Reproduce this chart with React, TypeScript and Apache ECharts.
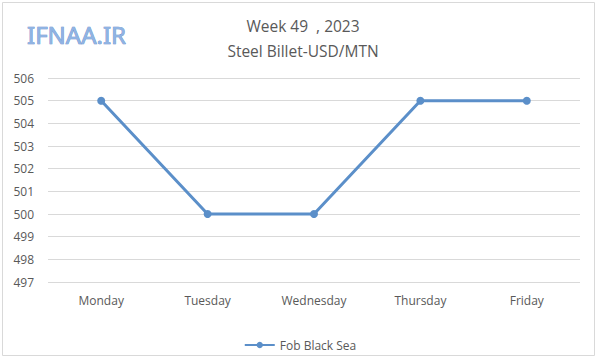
import React, { useEffect, useRef } from "react";
import * as echarts from "echarts";

const categories = ["Monday", "Tuesday", "Wednesday", "Thursday", "Friday"];
const seriesName = "Fob Black Sea";
const values = [505, 500, 500, 505, 505];
const titleLines = ["Week 49  , 2023", "Steel Billet-USD/MTN"];
const logoText = "IFNAA.IR";

export default function App() {
  const ref = useRef<HTMLDivElement>(null);
  useEffect(() => {
    if (!ref.current) return;
    const chart = echarts.init(ref.current, null, { renderer: "svg" });
    chart.setOption({
      animation: false,
      backgroundColor: "#ffffff",
      title: {
        text: titleLines.join("\n"),
        left: 298,
        textAlign: "center",
        top: 8,
        textStyle: {
          fontFamily: "Open Sans, sans-serif",
          fontSize: 15.5,
          fontWeight: "normal",
          color: "#595959",
          lineHeight: 25,
        },
      },
      graphic: [
        {
          type: "rect",
          shape: { x: 2.5, y: 2.5, width: 592, height: 353 },
          style: { fill: "none", stroke: "#d9d9d9", lineWidth: 1 },
        },
        {
          type: "text",
          x: 27,
          y: 34,
          style: {
            text: logoText,
            fontFamily: "Noto Sans, sans-serif",
            fontSize: 24,
            verticalAlign: "middle",
            fill: "#8fb3e3",
            stroke: "#5a86c4",
            lineWidth: 0.7,
          },
        },
      ],
      legend: {
        bottom: 7,
        left: "center",
        itemWidth: 30,
        itemHeight: 8,
        textStyle: { color: "#595959", fontSize: 12, fontFamily: "Open Sans, sans-serif" },
        data: [seriesName],
      },
      grid: { left: 48, right: 20, top: 78, bottom: 81, containLabel: false },
      xAxis: {
        type: "category",
        data: categories,
        boundaryGap: true,
        axisLine: { show: false },
        axisTick: { show: false },
        axisLabel: { color: "#595959", fontSize: 12, margin: 12, fontFamily: "Open Sans, sans-serif" },
      },
      yAxis: {
        type: "value",
        min: 497,
        max: 506,
        interval: 1,
        axisLine: { show: false },
        axisTick: { show: false },
        axisLabel: { color: "#595959", fontSize: 12, margin: 14, fontFamily: "Open Sans, sans-serif" },
        splitLine: { lineStyle: { color: "#d9d9d9", width: 1 } },
      },
      series: [
        {
          name: seriesName,
          type: "line",
          data: values,
          symbol: "circle",
          symbolSize: 8,
          lineStyle: { color: "#5b8fc9", width: 3 },
          itemStyle: { color: "#5b8fc9" },
        },
      ],
    });
    return () => chart.dispose();
  }, []);
  return (
    <div
      ref={ref}
      style={{ position: "fixed", left: 0, top: 0, width: 600, height: 363 }}
    />
  );
}
